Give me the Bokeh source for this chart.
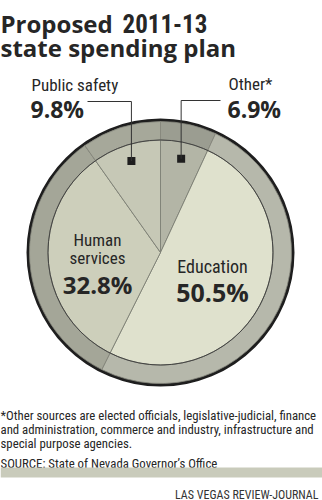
import math
from bokeh.plotting import figure
from bokeh.models import ColumnDataSource
from bokeh.core.properties import value
from bokeh.embed import file_html
from bokeh.resources import INLINE

# ---- data ----
categories = ["Other*", "Education", "Human services", "Public safety"]
shares = [6.9, 50.5, 32.8, 9.8]
share_labels = ["6.9%", "50.5%", "32.8%", "9.8%"]
slice_colors = ["#b3b5a6", "#dfe1cd", "#cdcfbb", "#c6c8b6"]
ring_colors = ["#9b9d91", "#b6b8ab", "#a4a698", "#a6a89a"]

title_words = ["Proposed", "2011-13"]
title_line2 = "state spending plan"
footnote_lines = [
    "*Other sources are elected officials, legislative-judicial, finance",
    "and administration, commerce and industry, infrastructure and",
    "special purpose agencies.",
]
source_text = "SOURCE: State of Nevada Governor\u2019s Office"
credit_text = "LAS VEGAS REVIEW-JOURNAL"

# ---- layout ----
W, H = 322, 500
CX, CY = 160, 252          # pie centre (pixels from top-left)
R_OUT, R_RING, R_PIE = 134, 131, 112.5
NARROW = "Roboto Condensed"
BOLD = "Open Sans"
INK = "#262626"

def Y(y):
    return H - y

total = sum(shares)
starts, ends, mids = [], [], []
c = 0.0
for s in shares:
    c0, c1 = c, c + s / total
    starts.append(90 - 360 * c1)
    ends.append(90 - 360 * c0)
    mids.append(90 - 360 * (c0 + c1) / 2)
    c = c1

src = ColumnDataSource(dict(cat=categories, share=shares, start=starts, end=ends,
                            fill=slice_colors, ring=ring_colors))

p = figure(width=W, height=H, x_range=(0, W), y_range=(0, H),
           output_backend="svg", toolbar_location=None, min_border=0)
p.axis.visible = False
p.grid.visible = False
p.outline_line_color = None
p.background_fill_color = "white"
p.border_fill_color = "white"

# dark rim
p.circle(x=[CX], y=[Y(CY)], radius=R_OUT, fill_color="#1e1e1e", line_color=None)
# ring segments
p.annular_wedge(x=CX, y=Y(CY), inner_radius=R_PIE, outer_radius=R_RING,
                start_angle="start", end_angle="end", start_angle_units="deg",
                end_angle_units="deg", fill_color="ring", line_color="#85877c",
                line_width=0.8, source=src)
# pie slices
p.wedge(x=CX, y=Y(CY), radius=R_PIE, start_angle="start", end_angle="end",
        start_angle_units="deg", end_angle_units="deg", fill_color="fill",
        line_color="#7a7c72", line_width=0.8, source=src)
p.circle(x=[CX], y=[Y(CY)], radius=R_PIE, fill_color=None, line_color="#3c3c3c",
         line_width=0.9)

# callout squares and leaders for the two small slices
r_sq = 96
sq = {}
for i in (0, 3):
    a = math.radians(mids[i])
    sq[i] = (CX + r_sq * math.cos(a), CY - r_sq * math.sin(a))
sx = [sq[i][0] for i in (0, 3)]
sy = [Y(sq[i][1]) for i in (0, 3)]
p.scatter(x=sx, y=sy, marker="square", size=8, fill_color="#1e1e1e", line_color=None)
ox, oy = sq[0]
p.line(x=[ox, ox, 220], y=[Y(oy), Y(100), Y(100)], line_color="#333", line_width=1)
px_, py_ = sq[3]
p.line(x=[87, px_, px_], y=[Y(101), Y(101), Y(py_)], line_color="#333", line_width=1)

def txt(x, y, s, size, font=NARROW, style="normal", align="left", color=INK):
    p.text(x=[x], y=[Y(y)], text=[s], text_font=value(font), text_font_size=size,
           text_font_style=style, text_align=align, text_baseline="alphabetic",
           text_color=color)

# title
txt(0, 23, title_words[0], "24px", BOLD, "bold")
txt(122, 23, title_words[1], "25px", NARROW, "bold")
txt(0, 47, title_line2, "24px", BOLD, "bold")

# outside labels
txt(31, 84, "Public safety", "17px")
txt(30, 108, share_labels[3], "23px", BOLD, "bold")
txt(228, 83, categories[0], "17px")
txt(227, 108, share_labels[0], "23px", BOLD, "bold")

# inside labels
txt(97, 239, "Human", "17px", align="center")
txt(97, 257, "services", "17px", align="center")
txt(97, 284, share_labels[2], "24px", BOLD, "bold", align="center")
txt(212, 266, categories[1], "18px", align="center")
txt(212, 291, share_labels[1], "25px", BOLD, "bold", align="center")

# footnotes
for i, line in enumerate(footnote_lines):
    txt(0, 415 + 14.2 * i, line, "12.8px")
txt(0, 463, source_text, "12.8px")

# grey rule and credit
p.quad(left=[0], right=[W], bottom=[Y(477)], top=[Y(467)], fill_color="#c9cbbb",
       line_color=None)
txt(318, 494, credit_text, "12px", align="right", color="#333333")

open("out.html", "w").write(file_html(p, INLINE))
